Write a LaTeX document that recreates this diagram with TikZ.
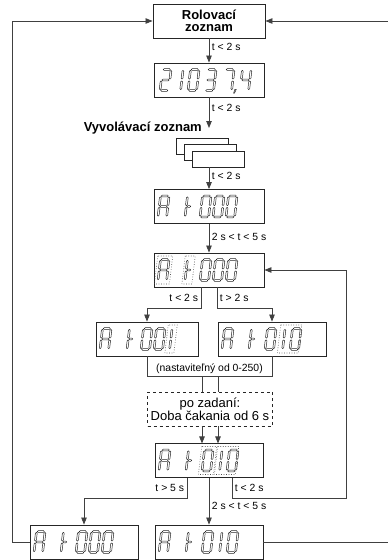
\documentclass[tikz,border=0pt]{standalone}
\usepackage{fontspec}
\setmainfont{Liberation Sans}
\usetikzlibrary{arrows.meta,calc}
% outlined segment pieces: \hs{x1}{x2}{y}, \vs{x}{y1}{y2} (y grows downwards)
\def\hs#1#2#3{(#1-0.9,#3)--(#1,#3-0.9)--(#2,#3-0.9)--(#2+0.9,#3)--(#2,#3+0.9)--(#1,#3+0.9)--cycle}
\def\vs#1#2#3{(#1,#2-0.9)--(#1+0.9,#2)--(#1+0.9,#3)--(#1,#3+0.9)--(#1-0.9,#3)--(#1-0.9,#2)--cycle}
\def\segA{\hs{-2.6}{2.6}{-10.5}}
\def\segB{\vs{4.3}{-8.7}{-1.8}}
\def\segC{\vs{4.3}{1.8}{8.7}}
\def\segD{\hs{-2.6}{2.6}{10.5}}
\def\segE{\vs{-4.3}{1.8}{8.7}}
\def\segF{\vs{-4.3}{-8.7}{-1.8}}
\def\segG{\hs{-2.6}{2.6}{0}}
\def\segH{\hs{-2.6}{-0.8}{0}}
\def\segP{(7.4,9.4)--(8.8,9.4)--(7.6,13)--(6.6,13)--cycle}
\def\chA{A,B,C,E,F,G}
\def\chT{E,F,H}
\def\chZero{A,B,C,D,E,F}
\def\chOne{B,C}
\def\chTwo{A,B,G,E,D}
\def\chThree{A,B,G,C,D}
\def\chFour{F,G,B,C}
\def\chSeven{A,B,C}
\newcommand\segdigit[2]{%
  \begin{scope}[shift={(#1)},xslant=0.12]
    \foreach \sg in #2 {\edef\segpath{\csname seg\sg\endcsname}
      \draw[segline] \segpath;}
  \end{scope}}
\newcommand\segblink[2]{%
  \begin{scope}[shift={(#1)},xslant=0.12]
    \draw[blinkdots] (-#2,-14) rectangle (#2,14);
  \end{scope}}
\newcommand\segAt[1]{%
  \segdigit{$(#1.west)+(10,0)$}{\chA}
  \segdigit{$(#1.west)+(37,0)$}{\chT}}
\tikzset{
  disp/.style={draw=black!85, line width=0.9pt, minimum height=34pt, minimum width=110pt, inner sep=0pt},
  card/.style={draw=black!85, line width=0.9pt, fill=white, minimum width=52pt, minimum height=16pt, inner sep=0pt},
  segline/.style={draw=black!85, line width=0.5pt, line join=miter},
  blinkdots/.style={draw=black!70, line width=0.6pt, dash pattern=on 0.7pt off 1.8pt},
  title/.style={font=\bfseries\fontsize{13}{12}\selectfont, align=center},
  lbl/.style={font=\fontsize{10.4}{12}\selectfont, inner sep=2.5pt},
  line/.style={draw=black!75, line width=0.8pt},
  arr/.style={line, -{Triangle[length=7pt,width=5.5pt]}},
}
\begin{document}
\begin{tikzpicture}[x=1pt,y=-1pt]
\path[use as bounding box, clip] (0,0) rectangle (388,560);

% boxes
\node[disp, minimum width=112pt, title] (rol) at (209,21) {Rolovací\\zoznam};
\node[disp] (d1) at (209,80) {};
\coordinate (v) at (209,128);
\node[title, anchor=base east, inner sep=0pt] (vyv) at (202,131) {Vyvolávací zoznam};
\node[card] (c1) at (202,146) {};
\node[card] (c2) at (210,152.5) {};
\node[card] (c3) at (218,159) {};
\node[disp] (d3) at (209,206.5) {};
\node[disp] (d4) at (209,270) {};
\node[disp, minimum width=102pt] (d5) at (147,339) {};
\node[disp, minimum width=108pt] (d6) at (272,339) {};
\node[draw=black!85, line width=0.9pt, dashed, minimum width=125pt, minimum height=34pt, inner sep=0pt,
  align=center, font=\fontsize{13}{12}\selectfont] (wait) at (210,409) {po zadaní:\\Doba čakania od 6 s};
\node[disp, minimum width=108pt] (d7) at (209,460.5) {};
\node[disp, minimum width=108pt] (d8) at (84,542) {};
\node[disp, minimum width=108pt] (d9) at (209,542) {};

% display contents
\segdigit{$(d1.west)+(12,0)$}{\chTwo}
\segdigit{$(d1.west)+(24,0)$}{\chOne}
\segdigit{$(d1.west)+(40,0)$}{\chZero}
\segdigit{$(d1.west)+(57,0)$}{\chThree}
\segdigit{$(d1.west)+(75,0)$}{\chSeven}
\segdigit{$(d1.west)+(75,0)$}{{P}}
\segdigit{$(d1.west)+(92,0)$}{\chFour}

\segAt{d3}
\foreach \px in {52,65,78} {\segdigit{$(d3.west)+(\px,0)$}{\chZero}}

\segAt{d4}
\foreach \px in {52,65,78} {\segdigit{$(d4.west)+(\px,0)$}{\chZero}}
\segblink{$(d4.west)+(10,0)$}{7.5}
\segblink{$(d4.west)+(35,0)$}{5}

\segAt{d5}
\segdigit{$(d5.west)+(51,0)$}{\chZero}
\segdigit{$(d5.west)+(64,0)$}{\chZero}
\segdigit{$(d5.west)+(71,0)$}{\chOne}
\segblink{$(d5.west)+(75.5,0)$}{4.5}

\foreach \d in {d6,d7,d9} {
  \segAt{\d}
  \segdigit{$(\d.west)+(53,0)$}{\chZero}
  \segdigit{$(\d.west)+(62,0)$}{\chOne}
  \segdigit{$(\d.west)+(78,0)$}{\chZero}
}
\segblink{$(d6.west)+(72,0)$}{10.5}
\segblink{$(d7.west)+(53,0)$}{7.5}
\segblink{$(d7.west)+(72,0)$}{10.5}

\segAt{d8}
\foreach \px in {52,65,78} {\segdigit{$(d8.west)+(\px,0)$}{\chZero}}

% connectors
\draw[arr] (rol) -- node[lbl,right,pos=.35]{t < 2 s} (d1);
\draw[arr] (d1) -- node[lbl,right,pos=.35]{t < 2 s} (v);
\draw[arr] (c3.south -| d3.north) -- node[lbl,right,pos=.4]{t < 2 s} (d3.north);
\draw[arr] (d3) -- node[lbl,right,pos=.45]{2 s < t < 5 s} (d4);
\draw[arr] ([xshift=-8pt]d4.south) -- node[lbl,left]{t < 2 s} ++(0,21) -| (d5.north);
\draw[arr] ([xshift=8pt]d4.south) -- node[lbl,right]{t > 2 s} ++(0,21) -| (d6.north);
\draw[line] (d5.south) -- ++(0,20) coordinate (jl) -- (jl -| d6.south) coordinate (jr) -- (d6.south);
\node[lbl, above] at ($(jl)!.5!(jr)$) {(nastaviteľný od 0-250)};
\draw[line] ([xshift=-8pt]wait.north) -- ++(0,-16);
\draw[line] ([xshift=8pt]wait.north) -- ++(0,-16);
\draw[arr] ([xshift=-8pt]wait.south) -- ++(0,17);
\draw[arr] ([xshift=8pt]wait.south) -- ++(0,17);
\draw[arr] ([xshift=-22pt]d7.south) -- node[lbl,left]{t > 5 s} ++(0,20) -| (d8.north);
\draw[arr] (d7) -- node[lbl,right,pos=.6]{2 s < t < 5 s} (d9);
\draw[arr] ([xshift=23pt]d7.south) -- node[lbl,right]{t < 2 s} ++(0,20) -- ++(114,0) |- (d4.east);
\draw[arr] (d8.west) -- ++(-17,0) |- (rol.west);
\draw[arr] (d9.east) -- ++(140,0) |- (rol.east);
\end{tikzpicture}
\end{document}
